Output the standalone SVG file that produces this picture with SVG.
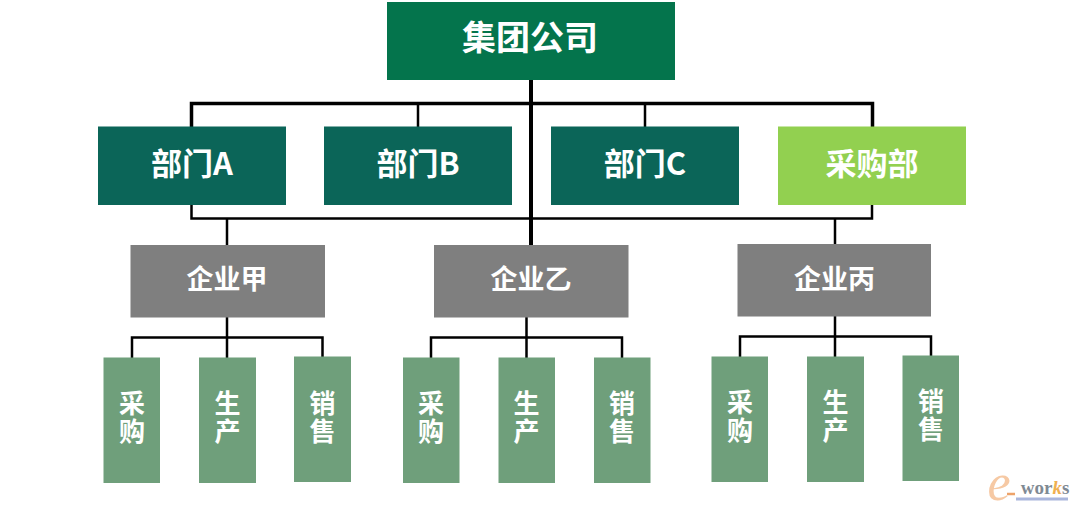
<svg xmlns="http://www.w3.org/2000/svg" width="1080" height="512" viewBox="0 0 1080 512">
<style>
text{font-family:"Noto Sans CJK SC","Noto Sans",sans-serif;font-weight:700;fill:#fff;text-anchor:middle}
.top{fill:#04744c}.dept{fill:#0b6558}.buy{fill:#92d050}.ent{fill:#7f7f7f}.leaf{fill:#6f9f7b}
.t1{font-size:34px}.t2{font-size:31px}.t3{font-size:27px}.t4{font-size:26px;writing-mode:vertical-rl;letter-spacing:2px}
.l{fill:none;stroke:#000;stroke-width:2.5}.m{fill:none;stroke:#000;stroke-width:4}
</style>
<rect width="1080" height="512" fill="#fff"/>
<g id="connectors">
<path class="m" d="M531 80V245"/>
<path class="l" style="stroke-width:3.5" d="M191.500 127V103.500H872.500V127"/>
<path class="l" d="M418 103V127M645 103V127"/>
<path class="l" d="M191.500 205V218.500H872V205"/>
<path class="l" d="M227 218V245M835 218V244"/>
<path class="l" d="M227 317V358M132 358V337.500H322.500V357"/>
<path class="l" d="M526.500 317V358M431 358V337.500H622V358"/>
<path class="l" d="M835 316V357M740 357V336.500H931V356"/>
</g>
<g id="n-group"><rect class="top" x="387" y="2" width="288" height="78"/><text class="t1" x="530" y="50">集团公司</text></g>
<g id="n-dept-a"><rect class="dept" x="98" y="126.500" width="188" height="78.500"/><text class="t2" x="192" y="175">部门A</text></g>
<g id="n-dept-b"><rect class="dept" x="324" y="126.500" width="188" height="78.500"/><text class="t2" x="418" y="175">部门B</text></g>
<g id="n-dept-c"><rect class="dept" x="551" y="126.500" width="188" height="78.500"/><text class="t2" x="645" y="175">部门C</text></g>
<g id="n-purchasing"><rect class="buy" x="778" y="126.500" width="188" height="78.500"/><text class="t2" x="872" y="175">采购部</text></g>
<g id="n-ent-jia"><rect class="ent" x="130.500" y="245" width="194.500" height="72.500"/><text class="t3" x="227" y="289">企业甲</text></g>
<g id="n-ent-yi"><rect class="ent" x="434" y="245" width="194.500" height="72.500"/><text class="t3" x="531" y="289">企业乙</text></g>
<g id="n-ent-bing"><rect class="ent" x="737.500" y="244" width="193.500" height="72.500"/><text class="t3" x="834.500" y="289">企业丙</text></g>
<g id="n-a1"><rect class="leaf" x="103.500" y="357.500" width="56.500" height="125.500"/><text class="t4" x="132" y="418">采购</text></g>
<g id="n-a2"><rect class="leaf" x="199" y="357.500" width="57" height="125.500"/><text class="t4" x="227.500" y="418">生产</text></g>
<g id="n-a3"><rect class="leaf" x="294" y="356.500" width="57" height="125.500"/><text class="t4" x="322.500" y="418">销售</text></g>
<g id="n-b1"><rect class="leaf" x="403" y="357.500" width="56.500" height="125.500"/><text class="t4" x="431" y="418">采购</text></g>
<g id="n-b2"><rect class="leaf" x="498.500" y="357.500" width="56.500" height="125.500"/><text class="t4" x="526.500" y="418">生产</text></g>
<g id="n-b3"><rect class="leaf" x="594" y="357.500" width="56.500" height="125.500"/><text class="t4" x="622" y="418">销售</text></g>
<g id="n-c1"><rect class="leaf" x="711.500" y="356.500" width="56.500" height="125.500"/><text class="t4" x="740" y="417">采购</text></g>
<g id="n-c2"><rect class="leaf" x="807" y="356.500" width="57" height="125.500"/><text class="t4" x="835.500" y="417">生产</text></g>
<g id="n-c3"><rect class="leaf" x="902.500" y="355.500" width="56.500" height="125.500"/><text class="t4" x="931" y="416">销售</text></g>
<g id="watermark">
<path d="M1016 499H1068" stroke="#a9b6dc" stroke-width="3" fill="none"/>
<text x="999" y="500" style="font-family:'Liberation Serif',serif;font-style:italic;font-size:52px;fill:#f6c9a4;font-weight:400">e</text>
<path d="M1007 494H1015" stroke="#eda36a" stroke-width="2.500"/>
<text x="1045" y="494" style="font-family:'Liberation Serif',serif;font-size:19px;fill:#7f8a94">wor<tspan style="fill:#f0b050;font-style:italic">k</tspan>s</text>
</g>
</svg>
